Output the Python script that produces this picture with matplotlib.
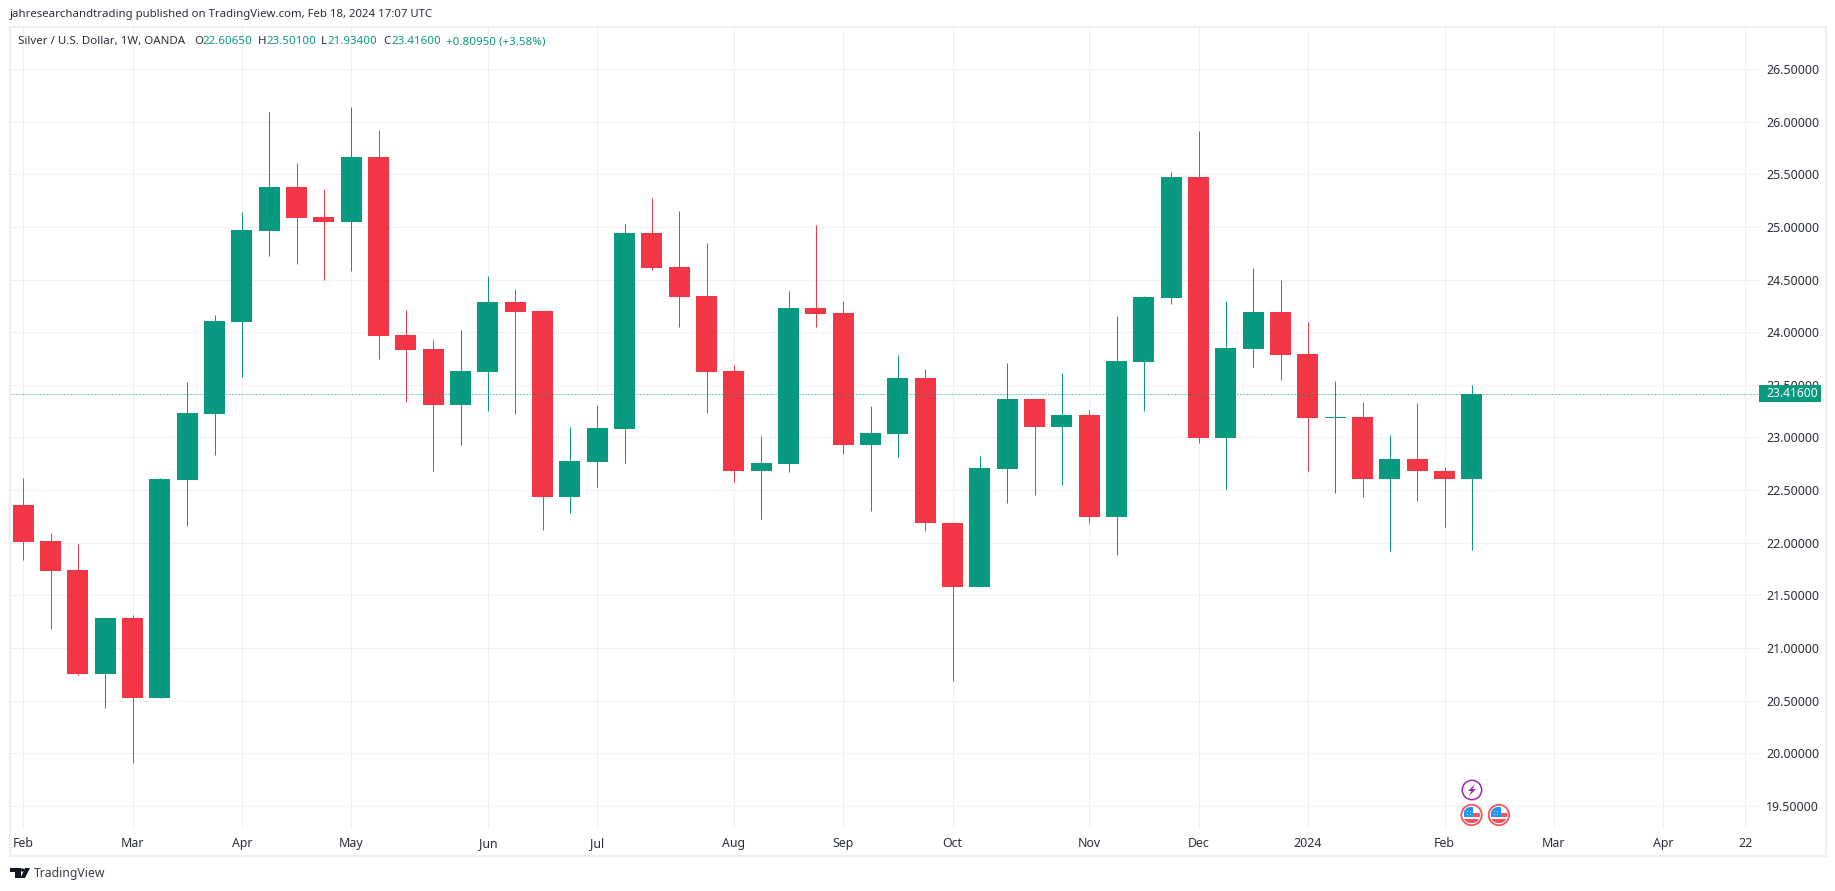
import matplotlib
matplotlib.use('Agg')
import matplotlib.pyplot as plt
from matplotlib.patches import Circle, Polygon, Rectangle
from matplotlib.transforms import Affine2D

W, H = 1835, 891

# weekly candles
opens = [22.357, 22.015, 21.740, 20.752, 21.284, 20.524, 22.595, 23.222, 24.097, 24.961,
         25.379, 25.094, 25.047, 25.664, 23.973, 23.841, 23.309, 23.622, 24.287, 24.202,
         22.436, 22.768, 23.083, 24.944, 24.621, 24.346, 23.634, 22.684, 22.750, 24.232,
         24.185, 22.931, 23.035, 23.568, 22.192, 21.584, 22.704, 23.369, 23.103, 23.217,
         22.249, 23.713, 24.322, 25.471, 22.991, 23.837, 24.189, 23.789, 23.186, 23.190,
         22.610, 22.800, 22.686, 22.6065]
highs = [22.614, 22.091, 21.987, 21.284, 21.312, 22.614, 23.531, 24.163, 25.142, 26.092,
         25.607, 25.360, 26.139, 25.921, 24.209, 23.926, 24.021, 24.534, 24.410, 24.202,
         23.101, 23.310, 25.030, 25.277, 25.153, 24.851, 23.691, 23.015, 24.395, 25.022,
         24.299, 23.302, 23.786, 23.654, 22.192, 22.824, 23.711, 23.369, 23.616, 23.265,
         24.155, 24.341, 25.519, 25.908, 24.293, 24.607, 24.493, 24.094, 23.533, 23.334,
         23.028, 23.323, 22.724, 23.501]
lows = [21.835, 21.179, 20.742, 20.429, 19.906, 20.524, 22.158, 22.832, 23.574, 24.724,
        24.648, 24.496, 24.581, 23.745, 23.337, 22.683, 22.930, 23.253, 23.224, 22.122,
        22.284, 22.531, 22.760, 24.593, 24.051, 23.235, 22.580, 22.227, 22.675, 24.052,
        22.845, 22.303, 22.817, 22.116, 20.691, 21.575, 22.381, 22.457, 22.552, 22.192,
        21.879, 23.248, 24.265, 22.943, 22.515, 23.666, 23.542, 22.686, 22.477, 22.430,
        21.926, 22.401, 22.145, 21.934]
closes = [22.006, 21.730, 20.752, 21.284, 20.524, 22.604, 23.231, 24.106, 24.971, 25.379,
          25.085, 25.047, 25.664, 23.964, 23.831, 23.309, 23.632, 24.287, 24.192, 22.436,
          22.778, 23.091, 24.944, 24.612, 24.336, 23.625, 22.684, 22.760, 24.232, 24.175,
          22.931, 23.045, 23.567, 22.183, 21.584, 22.710, 23.369, 23.103, 23.217, 22.249,
          23.726, 24.331, 25.471, 22.991, 23.846, 24.189, 23.780, 23.181, 23.196, 22.610,
          22.800, 22.677, 22.601, 23.416]

price_ticks = [19.5, 20.0, 20.5, 21.0, 21.5, 22.0, 22.5, 23.0, 23.5, 24.0, 24.5, 25.0, 25.5, 26.0, 26.5]
time_ticks = [0, 4, 8, 12, 17, 21, 26, 30, 34, 39, 43, 47, 52, 56, 60, 63]
time_labels = ['Feb', 'Mar', 'Apr', 'May', 'Jun', 'Jul', 'Aug', 'Sep', 'Oct', 'Nov', 'Dec',
               '2024', 'Feb', 'Mar', 'Apr', '22']
last_price = 23.416
event_bolt = [53]
event_flags = [53, 54]

GREEN = '#089981'
RED = '#F23645'
GRID = '#EFF0F3'
FRAME = '#EEEFF5'
INK = '#2A2E39'

plt.rcParams['font.family'] = ['Noto Sans', 'DejaVu Sans']

fig = plt.figure(figsize=(W / 100, H / 100), dpi=100, facecolor='white')
# pixel coordinates, origin top left
PX = Affine2D().scale(1, -1).translate(0, H)

ax = fig.add_axes([10 / W, 1 - 828 / H, (1759 - 10) / W, (828 - 28) / H])
ax.set_xlim((10 - 23.3) / 27.333, (1759 - 23.3) / 27.333)
ax.set_ylim(20 + (753.3 - 828) / 105.27, 20 + (753.3 - 28) / 105.27)
for s in ax.spines.values():
    s.set_visible(False)

ax.set_axisbelow(True)
ax.grid(True, color=GRID, linewidth=0.72)
ax.set_xticks(time_ticks)
ax.set_xticklabels(time_labels, fontsize=8.9, color=INK)
ax.get_xticklabels()[time_labels.index('2024')].set_fontweight('bold')
ax.set_yticks(price_ticks)
ax.set_yticklabels([f'{p:.5f}' for p in price_ticks], fontsize=8.9, color=INK)
ax.yaxis.tick_right()
ax.tick_params(axis='both', length=0)
ax.tick_params(axis='x', pad=6.5)
ax.tick_params(axis='y', pad=5)

for i in range(len(opens)):
    col = GREEN if closes[i] >= opens[i] else RED
    wick = ax.vlines(i, lows[i], highs[i], color=col, linewidth=0.72, zorder=3)
    wick.set_snap(True)
    ax.bar(i, abs(closes[i] - opens[i]), bottom=min(opens[i], closes[i]), width=0.768,
           color=col, linewidth=0, zorder=4)

ax.axhline(last_price, color=GREEN, linewidth=0.72, linestyle=(0, (1, 2)), zorder=5)

# outer frame
fig.add_artist(Rectangle((10, 27), 1815.5, 829, transform=PX, fill=False,
                         edgecolor=FRAME, linewidth=1.6))

# last price tag sits over the 23.5 label
fig.add_artist(Rectangle((1759, 385), 62, 17, transform=PX, facecolor=GREEN,
                         edgecolor='none', zorder=5))
fig.text(1766, 393.5, f'{last_price:.5f}', transform=PX, color='white', fontsize=8.7,
         fontweight='bold', va='center', ha='left', zorder=6)

# header texts
fig.text(10, 15, 'jahresearchandtrading published on TradingView.com, Feb 18, 2024 17:07 UTC',
         transform=PX, fontsize=8.2, color=INK, va='center')
legend_parts = [(18, 'Silver / U.S. Dollar, 1W, OANDA', INK),
                (194, 'O', INK), (202, '22.60650', GREEN),
                (257.5, 'H', INK), (266, '23.50100', GREEN),
                (321, 'L', INK), (327.5, '21.93400', GREEN),
                (383, 'C', INK), (391, '23.41600', GREEN),
                (445.5, '+0.80950 (+3.58%)', GREEN)]
for px, txt, col in legend_parts:
    fig.text(px, 41.5, txt, transform=PX, fontsize=8.3, color=col, va='center')

# event icons below the last candles
def px_x(i):
    return ax.transData.transform((i, 20))[0]

for i in event_bolt:
    cx, cy = px_x(i), 790
    fig.add_artist(Circle((cx, cy), 9.7, transform=PX, facecolor='white',
                          edgecolor='#9C27B0', linewidth=1.1, zorder=5))
    fig.add_artist(Polygon([(cx + 3.5, cy - 6), (cx - 4, cy + 1), (cx - 0.5, cy + 1), (cx - 3, cy + 6),
                            (cx + 4, cy - 1), (cx + 0.5, cy - 1)], transform=PX,
                           facecolor='#9C27B0', edgecolor='none', zorder=6))

for i in event_flags:
    cx, cy = px_x(i) - 0.4, 815
    fig.add_artist(Circle((cx, cy), 10.2, transform=PX, facecolor='white',
                          edgecolor='#F7525F', linewidth=1.3, zorder=5))
    inner = Circle((cx, cy), 8.4, transform=PX)
    parts = [Rectangle((cx + 1.7, cy - 2.3), 7, 4.3, facecolor='#F7525F', zorder=6),
             Rectangle((cx - 8, cy + 4.3), 16, 4, facecolor='#F7525F', zorder=6),
             Rectangle((cx - 8, cy - 8), 9.7, 9.7, facecolor='#2196F3', zorder=7)]
    for p in parts:
        p.set_transform(PX)
        p.set_edgecolor('none')
        p.set_clip_path(inner)
        fig.add_artist(p)
    for off in (-4.5, -1.5):
        for off2 in (-4.5, -1.5):
            fig.add_artist(Rectangle((cx + off, cy + off2), 1, 1, transform=PX,
                                     facecolor='#BBDEFB', edgecolor='none', zorder=8))

# logo
fig.add_artist(Polygon([(10, 868), (20.5, 868), (20.5, 878), (14.5, 878), (14.5, 872), (10, 872)],
                       transform=PX, facecolor='#131722', edgecolor='none'))
fig.add_artist(Circle((22.5, 870), 1.7, transform=PX, facecolor='#131722', edgecolor='none'))
fig.add_artist(Polygon([(25, 868), (30, 868), (25, 878), (20.5, 878)],
                       transform=PX, facecolor='#131722', edgecolor='none'))
fig.text(34, 873, 'TradingView', transform=PX, fontsize=8.8, color='#3a3e48', va='center')

fig.savefig('out.png', dpi=100)
